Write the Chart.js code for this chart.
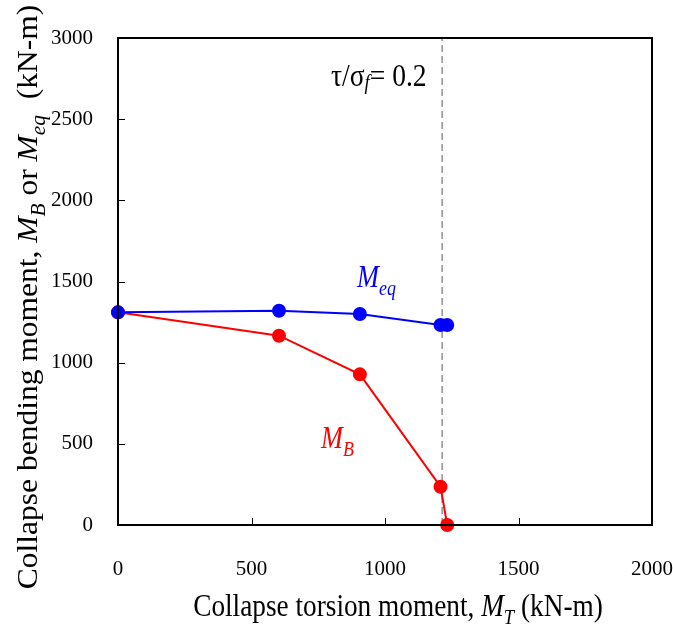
<!DOCTYPE html>
<html><head><meta charset="utf-8">
<script src="https://cdn.jsdelivr.net/npm/chart.js@4"></script>
<style>html,body{margin:0;padding:0;background:#fff}#wrap{width:673px;height:625px}</style>
</head><body><div id="wrap"><canvas id="c" width="673" height="625"></canvas></div>
<script>
// ---- data ----
const torsionMT = [0, 603, 906, 1208, 1233];       // collapse torsion moment (kN-m)
const bendingMB = [1310, 1166, 928, 236, 0];       // M_B (kN-m)
const equivMeq  = [1310, 1320, 1300, 1232, 1232];  // M_eq (kN-m)
const refLineX  = [1214, 1214];                    // tau/sigma_f = 0.2 line
const refLineY  = [0, 3000];
const xTickValues = [0, 500, 1000, 1500, 2000];
const yTickValues = [0, 500, 1000, 1500, 2000, 2500, 3000];

const SERIF = '"Liberation Serif","Times New Roman",serif';

function pts(xs, ys){ return xs.map((x,i)=>({x:x, y:ys[i]})); }

// mixed-style text: segs = [{t, it, sub, drop}]
function drawSegs(ctx, segs, size, color){
  let x = 0;
  const parts = segs.map(s=>{
    const fs = s.sub ? size*0.68 : size;
    const f = (s.it ? 'italic ' : '') + fs + 'px ' + SERIF;
    ctx.font = f;
    const w = ctx.measureText(s.t).width;
    const dy = s.sub ? size*(s.drop != null ? s.drop : 0.25) : 0;
    const p = {s, f, w, x, dy};
    x += w;
    return p;
  });
  return {total: x, draw(){
    ctx.fillStyle = color;
    ctx.textBaseline = 'alphabetic';
    ctx.textAlign = 'left';
    parts.forEach(p=>{ ctx.font = p.f; ctx.fillText(p.s.t, p.x, p.dy); });
  }};
}
function textAt(ctx, segs, size, color, x, y, opts){
  opts = opts || {};
  const sx = opts.sx || 1;
  ctx.save();
  const m = drawSegs(ctx, segs, size, color);
  ctx.translate(x, y);
  if (opts.rot) ctx.rotate(opts.rot);
  ctx.scale(sx, 1);
  if (opts.center) ctx.translate(-m.total/2, 0);
  m.draw();
  ctx.restore();
}

const framePlugin = {
  id: 'frame',
  afterDatasetsDraw(chart){
    const ctx = chart.ctx, a = chart.chartArea;
    const xs = chart.scales.x, ys = chart.scales.y;
    ctx.save();
    ctx.strokeStyle = '#000';
    ctx.lineWidth = 2;
    ctx.strokeRect(a.left, a.top, a.right - a.left, a.bottom - a.top);
    // inward tick marks
    ctx.lineWidth = 1;
    ctx.beginPath();
    xTickValues.slice(1, -1).forEach(v=>{
      const px = Math.round(xs.getPixelForValue(v)) + 0.5;
      ctx.moveTo(px, a.bottom); ctx.lineTo(px, a.bottom - 7);
    });
    yTickValues.slice(1, -1).forEach(v=>{
      const py = Math.round(ys.getPixelForValue(v)) + 0.5;
      ctx.moveTo(a.left, py); ctx.lineTo(a.left + 7, py);
    });
    ctx.stroke();
    ctx.restore();

    // axis titles
    textAt(ctx, [
      {t:'Collapse torsion moment, '}, {t:'M', it:true}, {t:'T', it:true, sub:true}, {t:' (kN-m)'}
    ], 31, '#000', 398, 616, {center:true, sx:0.88});
    textAt(ctx, [
      {t:'Collapse bending moment, '}, {t:'M', it:true}, {t:'B', it:true, sub:true},
      {t:' or '}, {t:'M', it:true}, {t:'eq', it:true, sub:true}, {t:'  (kN-m)'}
    ], 30, '#000', 37, 297, {center:true, rot:-Math.PI/2, sx:1.05});

    // annotations
    textAt(ctx, [{t:'M', it:true}, {t:'eq', it:true, sub:true}], 31, '#0000ff', 357, 287, {sx:0.85});
    textAt(ctx, [{t:'M', it:true}, {t:'B', it:true, sub:true}], 31, '#ff0000', 321, 448, {sx:0.85});
    textAt(ctx, [{t:'\u03c4/\u03c3'}, {t:'f', it:true, sub:true, drop:0.1}, {t:'= 0.2'}], 32, '#000', 331, 86, {sx:0.86});
  }
};

new Chart(document.getElementById('c'), {
  type: 'scatter',
  data: {
    datasets: [
      { label: 'Meq', data: pts(torsionMT, equivMeq), showLine: true,
        borderColor: '#0000ff', backgroundColor: '#0000ff', borderWidth: 2,
        pointRadius: 6, pointHoverRadius: 6, clip: false },
      { label: 'MB', data: pts(torsionMT, bendingMB), showLine: true,
        borderColor: '#ff0000', backgroundColor: '#ff0000', borderWidth: 2,
        pointRadius: 6, pointHoverRadius: 6, clip: false },
      { label: 'ref', data: pts(refLineX, refLineY), showLine: true,
        borderColor: '#808080', borderWidth: 1.3, borderDash: [7, 4],
        pointRadius: 0, pointHoverRadius: 0 }
    ]
  },
  options: {
    responsive: false, animation: false, devicePixelRatio: 1,
    layout: { padding: { left: 0, right: 21, top: 38, bottom: 0 } },
    plugins: { legend: { display: false }, tooltip: { enabled: false } },
    scales: {
      x: {
        type: 'linear', min: 0, max: 2000,
        afterBuildTicks: s => { s.ticks = xTickValues.map(v=>({value:v})); },
        grid: { display: false, drawTicks: false }, border: { display: false },
        ticks: { color: '#000', padding: 32, font: { family: SERIF, size: 21 }, maxRotation: 0,
                 callback: v => String(v) },
        afterFit: s => { s.height = 100; s.paddingLeft = 0; s.paddingRight = 0; }
      },
      y: {
        type: 'linear', min: 0, max: 3000,
        afterBuildTicks: s => { s.ticks = yTickValues.map(v=>({value:v})); },
        grid: { display: false, drawTicks: false }, border: { display: false },
        ticks: { color: '#000', padding: 25, font: { family: SERIF, size: 21 },
                 callback: v => String(v) },
        afterFit: s => { s.width = 118; s.paddingTop = 0; s.paddingBottom = 0; }
      }
    }
  },
  plugins: [framePlugin]
});
</script>
</body></html>
